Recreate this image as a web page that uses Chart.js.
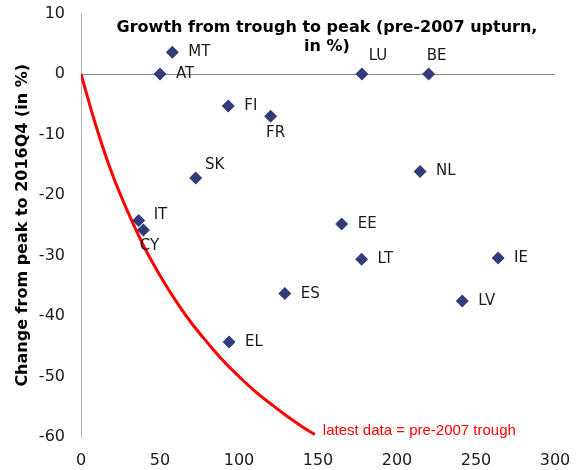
<!DOCTYPE html>
<html>
<head>
<meta charset="utf-8">
<script src="https://cdn.jsdelivr.net/npm/chart.js@4/dist/chart.umd.min.js"></script>
<style>
  body { margin: 0; background: #fff; }
  canvas { display: block; }
</style>
</head>
<body>
<canvas id="myChart" width="579" height="470"></canvas>
<script>
const countries = ['MT', 'AT', 'LU', 'BE', 'FI', 'FR', 'SK', 'NL', 'IT', 'CY', 'EE', 'LT', 'IE', 'ES', 'LV', 'EL'];
const troughToPeak = [57.8, 50, 177.8, 220, 93.2, 120, 72.6, 214.6, 36.5, 39.5, 165, 177.6, 264, 129, 241.3, 93.7];
const peakTo2016 = [3.6, 0, 0, 0, -5.3, -7.0, -17.2, -16.1, -24.2, -25.8, -24.8, -30.6, -30.4, -36.3, -37.5, -44.3];

// red curve
const curveX = [0, 10, 20, 30, 40, 50, 60, 70, 80, 90, 100, 110, 120, 130, 140, 148];
const curveY = [0, -9, -16.7, -23, -28.6, -33.3, -37.5, -41.2, -44.4, -47.4, -50, -52.4, -54.5, -56.5, -58.3, -59.6];

const xTicks = [0, 50, 100, 150, 200, 250, 300];
const yTicks = [-60, -50, -40, -30, -20, -10, 0, 10];

// label placement: [dx, dy, align]
const labelPlace = {
  FR: [5, 17, 'center'],
  CY: [6, 16, 'center'],
  SK: [19, -13, 'center'],
  LU: [16, -18, 'center'],
  BE: [8, -18, 'center'],
  IT: [15, -5, 'left'],
};

const labelsPlugin = {
  id: 'labels',
  afterDatasetsDraw(chart) {
    const { ctx, chartArea, scales } = chart;
    ctx.save();
    // point labels
    ctx.font = '15px "DejaVu Sans"';
    ctx.fillStyle = '#1a1a1a';
    ctx.textBaseline = 'middle';
    const meta = chart.getDatasetMeta(0);
    meta.data.forEach((pt, i) => {
      const p = labelPlace[countries[i]] || [16, 0, 'left'];
      ctx.textAlign = p[2];
      ctx.fillText(countries[i], pt.x + p[0], pt.y + p[1]);
    });
    // title at top
    ctx.font = 'bold 16px "DejaVu Sans"';
    ctx.fillStyle = '#000';
    ctx.textAlign = 'center';
    const cx = chartArea.left + 246;
    ctx.fillText('Growth from trough to peak (pre-2007 upturn,', cx, chartArea.top + 14);
    ctx.fillText('in %)', cx, chartArea.top + 33);
    // curve label
    const lx = scales.x.getPixelForValue(curveX[curveX.length - 1]);
    const ly = scales.y.getPixelForValue(curveY[curveY.length - 1]);
    ctx.font = '15px "Liberation Sans"';
    ctx.fillStyle = '#ff0000';
    ctx.textAlign = 'left';
    ctx.fillText('latest data = pre-2007 trough', lx + 8, ly - 4);
    ctx.restore();
  },
};

new Chart(document.getElementById('myChart'), {
  type: 'scatter',
  data: {
    datasets: [
      {
        label: 'countries',
        data: countries.map((c, i) => ({ x: troughToPeak[i], y: peakTo2016[i] })),
        pointStyle: 'rectRot',
        pointRadius: 6.5,
        pointHoverRadius: 6.5,
        backgroundColor: '#323c7a',
        borderColor: '#323c7a',
        borderWidth: 0,
      },
      {
        label: 'latest data = pre-2007 trough',
        type: 'line',
        data: curveX.map((x, i) => ({ x, y: curveY[i] })),
        borderColor: '#ff0000',
        borderWidth: 3,
        pointRadius: 0,
        tension: 0.4,
        fill: false,
      },
    ],
  },
  options: {
    responsive: false,
    animation: false,
    layout: { padding: { left: 0, top: 13.5, right: 24, bottom: 0 } },
    plugins: {
      legend: { display: false },
      tooltip: { enabled: false },
    },
    scales: {
      x: {
        type: 'linear',
        min: 0,
        max: 300,
        afterBuildTicks: (s) => { s.ticks = xTicks.map((v) => ({ value: v })); },
        afterFit: (s) => { s.height = 33; },
        grid: { color: 'rgba(0,0,0,0)', tickColor: 'rgba(0,0,0,0)', tickLength: 11 },
        border: { display: false },
        ticks: { padding: 3, color: '#1a1a1a', font: { family: 'DejaVu Sans', size: 16 } },
      },
      y: {
        type: 'linear',
        min: -60,
        max: 10,
        afterBuildTicks: (s) => { s.ticks = yTicks.map((v) => ({ value: v })); },
        afterFit: (s) => { s.width = 81; },
        grid: {
          tickColor: 'rgba(0,0,0,0)',
          tickLength: 13,
          color: (c) => (c.tick && c.tick.value === 0 ? '#8c8c8c' : 'rgba(0,0,0,0)'),
        },
        border: { display: true, color: '#b4b4b4', width: 1 },
        ticks: { padding: 3, color: '#1a1a1a', font: { family: 'DejaVu Sans', size: 16 } },
        title: {
          display: true,
          text: 'Change from peak to 2016Q4 (in %)',
          color: '#000',
          font: { family: 'DejaVu Sans', size: 16, weight: 'bold' },
          padding: { top: 13, bottom: 0 },
        },
      },
    },
  },
  plugins: [labelsPlugin],
});
</script>
</body>
</html>
